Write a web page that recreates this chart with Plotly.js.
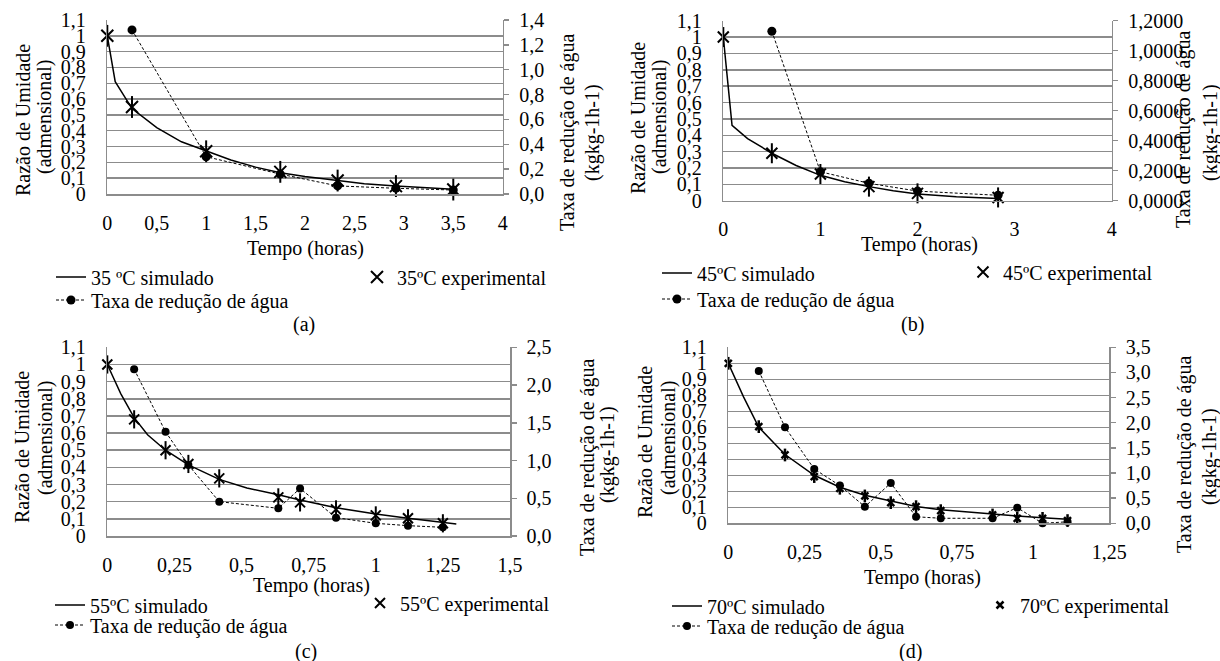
<!DOCTYPE html>
<html><head><meta charset="utf-8">
<script src="https://cdn.plot.ly/plotly-3.0.1.min.js"></script>
<style>html,body{margin:0;padding:0;background:#fff}#chart{width:1220px;height:661px}</style>
</head><body><div id="chart"></div>
<script>
// ---------- DATA ----------
// (a) 35 ºC
const tA_sim  = [0, 0.08, 0.25, 0.5, 0.75, 1.0, 1.25, 1.5, 1.75, 2.0, 2.33, 2.6, 2.92, 3.2, 3.5];
const mrA_sim = [1.0, 0.71, 0.54, 0.42, 0.33, 0.27, 0.215, 0.17, 0.135, 0.11, 0.085, 0.065, 0.05, 0.04, 0.03];
const tA_exp  = [0, 0.25, 1.0, 1.75, 2.33, 2.92, 3.5];
const mrA_exp = [1.0, 0.55, 0.27, 0.14, 0.085, 0.05, 0.028];
const tA_rate = [0.25, 1.0, 1.75, 2.33, 2.92, 3.5];
const rateA   = [1.32, 0.30, 0.16, 0.065, 0.046, 0.032];

// (b) 45 ºC
const tB_sim  = [0, 0.09, 0.25, 0.5, 0.75, 1.0, 1.25, 1.5, 1.75, 2.0, 2.4, 2.83];
const mrB_sim = [1.0, 0.46, 0.38, 0.29, 0.215, 0.155, 0.116, 0.086, 0.061, 0.041, 0.024, 0.014];
const tB_exp  = [0, 0.5, 1.0, 1.5, 2.0, 2.83];
const mrB_exp = [1.0, 0.29, 0.163, 0.086, 0.045, 0.02];
const tB_rate = [0.5, 1.0, 1.5, 2.0, 2.83];
const rateB   = [1.13, 0.193, 0.116, 0.064, 0.036];

// (c) 55 ºC
const tC_sim  = [0, 0.05, 0.10, 0.15, 0.217, 0.302, 0.417, 0.52, 0.637, 0.718, 0.852, 1.0, 1.12, 1.25, 1.30];
const mrC_sim = [1.0, 0.83, 0.69, 0.59, 0.5, 0.415, 0.33, 0.28, 0.24, 0.21, 0.165, 0.128, 0.103, 0.08, 0.07];
const tC_exp  = [0, 0.10, 0.217, 0.302, 0.417, 0.637, 0.718, 0.852, 1.0, 1.12, 1.25];
const mrC_exp = [1.0, 0.68, 0.50, 0.42, 0.336, 0.225, 0.196, 0.155, 0.12, 0.103, 0.074];
const tC_rate = [0.10, 0.217, 0.302, 0.417, 0.637, 0.718, 0.852, 1.0, 1.12, 1.25];
const rateC   = [2.21, 1.38, 0.94, 0.455, 0.367, 0.63, 0.243, 0.168, 0.137, 0.115];

// (d) 70 ºC
const tD_sim  = [0, 0.05, 0.10, 0.186, 0.282, 0.366, 0.448, 0.533, 0.616, 0.697, 0.867, 0.948, 1.031, 1.113];
const mrD_sim = [1.0, 0.79, 0.60, 0.43, 0.30, 0.225, 0.175, 0.14, 0.105, 0.085, 0.055, 0.045, 0.035, 0.025];
const tD_exp  = [0, 0.10, 0.186, 0.282, 0.366, 0.448, 0.533, 0.616, 0.697, 0.867, 0.948, 1.031, 1.113];
const mrD_exp = [1.0, 0.604, 0.427, 0.292, 0.219, 0.171, 0.129, 0.104, 0.079, 0.052, 0.031, 0.031, 0.017];
const tD_rate = [0.10, 0.186, 0.282, 0.366, 0.448, 0.533, 0.616, 0.697, 0.867, 0.948, 1.031, 1.113];
const rateD   = [3.03, 1.91, 1.08, 0.75, 0.33, 0.80, 0.13, 0.10, 0.10, 0.31, 0.0, 0.03];

const namesSim  = ['35 ºC simulado', '45ºC simulado', '55ºC simulado', '70ºC simulado'];
const namesExp  = ['35ºC experimental', '45ºC experimental', '55ºC experimental', '70ºC experimental'];
const nameRate  = 'Taxa de redução de água';
const captions  = ['(a)', '(b)', '(c)', '(d)'];
const yTitle1 = 'Razão de Umidade', yTitle2 = '(admensional)';
const rTitle1 = 'Taxa de redução de água', rTitle2 = '(kgkg-1h-1)';
const xTitle = 'Tempo (horas)';

// ---------- LAYOUT CONFIG ----------
const W = 1220, H = 661;
const px = v => v / W, py = v => 1 - v / H;
const GRID = '#8c8c8c';
const FONT = {family: 'Times New Roman, Liberation Serif, DejaVu Serif, serif', size: 20, color: '#000'};

const panels = [
  {sim:[tA_sim,mrA_sim], exp:[tA_exp,mrA_exp], rate:[tA_rate,rateA],
   box:{l:107.3,r:502.7,t:20,b:194}, xr:[0,4], xd:0.5, rr:[0,1.4], rd:0.2, rf:'.1f',
   star:12, starW:2, dot:9,
   yT:[[23,120],[45,117]], rT:[[568,133],[593,133]], xT:[305,248], cap:[304,325],
   lg:{sim:[91,277], rate:[91,300], exp:[397,277]}},
  {sim:[tB_sim,mrB_sim], exp:[tB_exp,mrB_exp], rate:[tB_rate,rateB],
   box:{l:723.3,r:1111.7,t:20.7,b:200.7}, xr:[0,4], xd:1, rr:[0,1.2], rd:0.2, rf:'.4f',
   star:11, starW:2, dot:9,
   yT:[[638,118],[660,117]], rT:[[1183,130],[1211,133]], xT:[920,244], cap:[912,325],
   lg:{sim:[697,273], rate:[697,299], exp:[1003,272]}},
  {sim:[tC_sim,mrC_sim], exp:[tC_exp,mrC_exp], rate:[tC_rate,rateC],
   box:{l:107.3,r:510,t:347.3,b:536}, xr:[0,1.5], xd:0.25, rr:[0,2.5], rd:0.5, rf:'.1f',
   star:10, starW:2, dot:8,
   yT:[[22,447],[45,438]], rT:[[587,458],[608,455]], xT:[311,585], cap:[306,651],
   lg:{sim:[90,605], rate:[90,625], exp:[400,603]}},
  {sim:[tD_sim,mrD_sim], exp:[tD_exp,mrD_exp], rate:[tD_rate,rateD],
   box:{l:728.3,r:1109.3,t:347.3,b:523.3}, xr:[0,1.25], xd:0.25, rr:[0,3.5], rd:0.5, rf:'.1f',
   star:7, starW:2.5, dot:8,
   yT:[[645,442],[668,438]], rT:[[1185,455],[1209,457]], xT:[922,577], cap:[910,651],
   lg:{sim:[707,606], rate:[707,626], exp:[1020,605]}}
];

const axId = (p, n) => n === 1 ? p : p + n;
const traces = [];
const layout = {
  width: W, height: H, margin: {l:0, r:0, t:0, b:0},
  paper_bgcolor: '#fff', plot_bgcolor: 'rgba(0,0,0,0)',
  font: FONT, separators: ',.', showlegend: true,
  annotations: []
};
let legN = 0;
const newLegend = (x, y) => {
  legN++;
  const key = legN === 1 ? 'legend' : 'legend' + legN;
  layout[key] = {x: px(x - 40), y: py(y), xanchor: 'left', yanchor: 'middle',
    bgcolor: 'rgba(0,0,0,0)', borderwidth: 0, font: FONT, itemclick: false};
  return key;
};
const ann = (text, x, y, angle) => layout.annotations.push({
  text, x: px(x), y: py(y), xref: 'paper', yref: 'paper', showarrow: false,
  xanchor: 'center', yanchor: 'middle', textangle: angle || 0, font: FONT
});

panels.forEach((p, i) => {
  const xn = i + 1, yl = 2 * i + 1, yr = 2 * i + 2;
  const xa = axId('x', xn), ya = axId('y', yl), yb = axId('y', yr);
  const xKey = 'xaxis' + (xn === 1 ? '' : xn);
  const yKey = 'yaxis' + (yl === 1 ? '' : yl);
  const y2Key = 'yaxis' + yr;
  const dx = [px(p.box.l), px(p.box.r)];
  const dy = [py(p.box.b), py(p.box.t)];
  layout[xKey] = {domain: dx, anchor: ya, range: p.xr, tick0: 0, dtick: p.xd,
    showgrid: false, zeroline: false, showline: true, linecolor: GRID, linewidth: 1.5,
    ticks: '', ticklabelstandoff: 10, tickfont: FONT, fixedrange: true};
  layout[yKey] = {domain: dy, anchor: xa, range: [0, 1.1], tick0: 0, dtick: 0.1,
    showgrid: true, gridcolor: GRID, gridwidth: 1.5, zeroline: false,
    showline: true, linecolor: GRID, linewidth: 1.5, ticks: '',
    ticklabelstandoff: 16, tickfont: FONT, fixedrange: true};
  layout[y2Key] = {domain: dy, anchor: xa, overlaying: ya, side: 'right',
    range: p.rr, tick0: 0, dtick: p.rd, tickformat: p.rf,
    showgrid: false, zeroline: false, showline: true, linecolor: GRID, linewidth: 1.5,
    ticks: 'outside', ticklen: 5, tickcolor: GRID, tickwidth: 1.5,
    ticklabelstandoff: 6, tickfont: FONT, fixedrange: true};

  const lSim = newLegend(p.lg.sim[0], p.lg.sim[1]);
  const lRate = newLegend(p.lg.rate[0], p.lg.rate[1]);
  const lExp = newLegend(p.lg.exp[0], p.lg.exp[1]);

  traces.push({x: p.sim[0], y: p.sim[1], xaxis: xa, yaxis: ya, mode: 'lines',
    name: namesSim[i], legend: lSim, line: {color: '#000', width: 1.5}, hoverinfo: 'skip'});
  traces.push({x: p.exp[0], y: p.exp[1], xaxis: xa, yaxis: ya, mode: 'markers',
    name: namesExp[i], legend: lExp, cliponaxis: false,
    marker: {symbol: 'x-thin-open', size: p.star, color: '#000', line: {color: '#000', width: p.starW}}});
  traces.push({x: p.exp[0], y: p.exp[1], xaxis: xa, yaxis: ya, mode: 'markers',
    showlegend: false, cliponaxis: false, hoverinfo: 'skip',
    marker: {symbol: 'line-ns-open', size: p.star * 1.3, color: '#000', line: {color: '#000', width: p.starW}}});
  traces.push({x: p.rate[0], y: p.rate[1], xaxis: xa, yaxis: yb, mode: 'lines+markers',
    name: nameRate, legend: lRate, cliponaxis: false,
    line: {color: '#000', width: 1, dash: '3px,2px'},
    marker: {symbol: 'circle', size: p.dot, color: '#000'}});

  ann(yTitle1, p.yT[0][0], p.yT[0][1], -90);
  ann(yTitle2, p.yT[1][0], p.yT[1][1], -90);
  ann(rTitle1, p.rT[0][0], p.rT[0][1], -90);
  ann(rTitle2, p.rT[1][0], p.rT[1][1], -90);
  ann(xTitle, p.xT[0], p.xT[1], 0);
  ann(captions[i], p.cap[0], p.cap[1], 0);
});

Plotly.newPlot('chart', traces, layout, {displayModeBar: false, staticPlot: true});
</script>
</body></html>
